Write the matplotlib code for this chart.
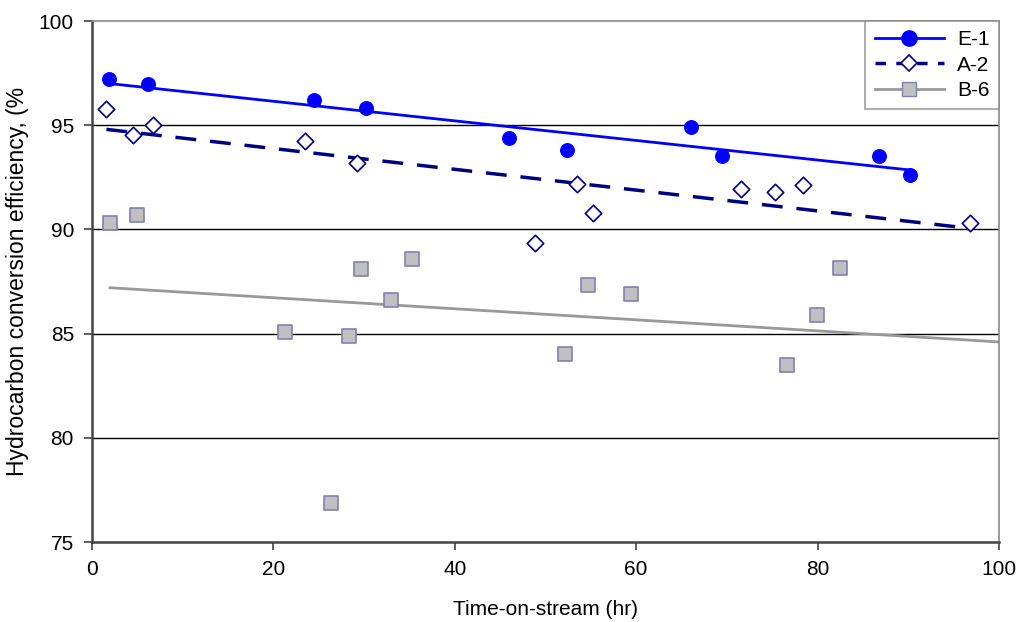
import matplotlib
matplotlib.use("Agg")
import matplotlib.pyplot as plt

plt.rcParams['font.family'] = ['Liberation Sans', 'DejaVu Sans']

# E-1 data
e1_t = [1.9, 6.2, 24.5, 30.2, 46.0, 52.4, 66.1, 69.5, 86.8, 90.2]
e1_y = [97.2, 97.0, 96.2, 95.85, 94.4, 93.8, 94.9, 93.5, 93.5, 92.6]
# A-2 data
a2_t = [1.6, 4.5, 6.7, 23.5, 29.2, 48.9, 53.5, 55.2, 71.6, 75.3, 78.4, 96.8]
a2_y = [95.8, 94.55, 95.0, 94.25, 93.2, 89.35, 92.2, 90.8, 91.95, 91.8, 92.15, 90.3]
# B-6 data
b6_t = [2.0, 5.0, 21.3, 26.3, 28.3, 29.7, 33.0, 35.3, 52.2, 54.7, 59.4, 76.6, 79.9, 82.5]
b6_y = [90.3, 90.7, 85.1, 76.85, 84.9, 88.1, 86.6, 88.6, 84.0, 87.35, 86.9, 83.5, 85.9, 88.15]

# trend lines (end points)
e1_fit_t = [1.9, 90.2]
e1_fit_y = [97.0, 92.85]
a2_fit_t = [1.6, 96.8]
a2_fit_y = [94.8, 90.05]
b6_fit_t = [2.0, 100.0]
b6_fit_y = [87.2, 84.6]

fig = plt.figure(figsize=(10.23, 6.22), dpi=100)
ax = fig.add_axes([0.0899, 0.1286, 0.8866, 0.8376])

ax.plot(e1_fit_t, e1_fit_y, color='#0000ff', lw=2, zorder=2)
ax.plot(a2_fit_t, a2_fit_y, color='#000080', lw=2.5, ls=(0, (6, 4)), zorder=2)
ax.plot(b6_fit_t, b6_fit_y, color='#999999', lw=2, zorder=2)

ax.scatter(e1_t, e1_y, s=95, color='#0000ff', zorder=4)
ax.scatter(a2_t, a2_y, s=70, marker='D', facecolor='white', edgecolor='#000080', lw=1.2, zorder=4)
ax.scatter(b6_t, b6_y, s=90, marker='s', facecolor='#c0c0c0', edgecolor='#8080b0', lw=1.2, zorder=4)

# legend proxies
h1, = ax.plot([], [], color='#0000ff', lw=2, marker='o', ms=11)
h2, = ax.plot([], [], color='#000080', lw=2.5, ls=(0, (3, 3)), marker='D', ms=8,
              mfc='white', mec='#000080', mew=1.2)
h3, = ax.plot([], [], color='#999999', lw=2, marker='s', ms=10, mfc='#c0c0c0', mec='#8080b0')
leg = ax.legend([h1, h2, h3], ['E-1', 'A-2', 'B-6'], loc='upper right', fontsize=15,
                frameon=True, fancybox=False, borderaxespad=0, handlelength=3.3,
                handletextpad=0.65, labelspacing=0.3, borderpad=0.45)
leg.get_frame().set_edgecolor('#888888')
leg.get_frame().set_linewidth(1.2)

ax.set_xlim(0, 100)
ax.set_ylim(75, 100)
ax.set_xticks(range(0, 101, 20))
ax.set_yticks(range(75, 101, 5))
for yv in [80, 85, 90, 95]:
    ax.axhline(yv, color='black', lw=1, zorder=1)

for s in ['top', 'right']:
    ax.spines[s].set_color('#888888')
    ax.spines[s].set_linewidth(1.2)
for s in ['left', 'bottom']:
    ax.spines[s].set_color('#444444')
    ax.spines[s].set_linewidth(1.8)
ax.tick_params(direction='out', length=6, width=1.2, color='#444444', labelsize=15, pad=7)

ax.set_xlabel('Time-on-stream (hr)', fontsize=15, labelpad=15)
ax.set_ylabel('Hydrocarbon conversion efficiency, (%', fontsize=16.5)
ax.yaxis.set_label_coords(-0.069, 0.5)

fig.savefig('out.png', dpi=100)
